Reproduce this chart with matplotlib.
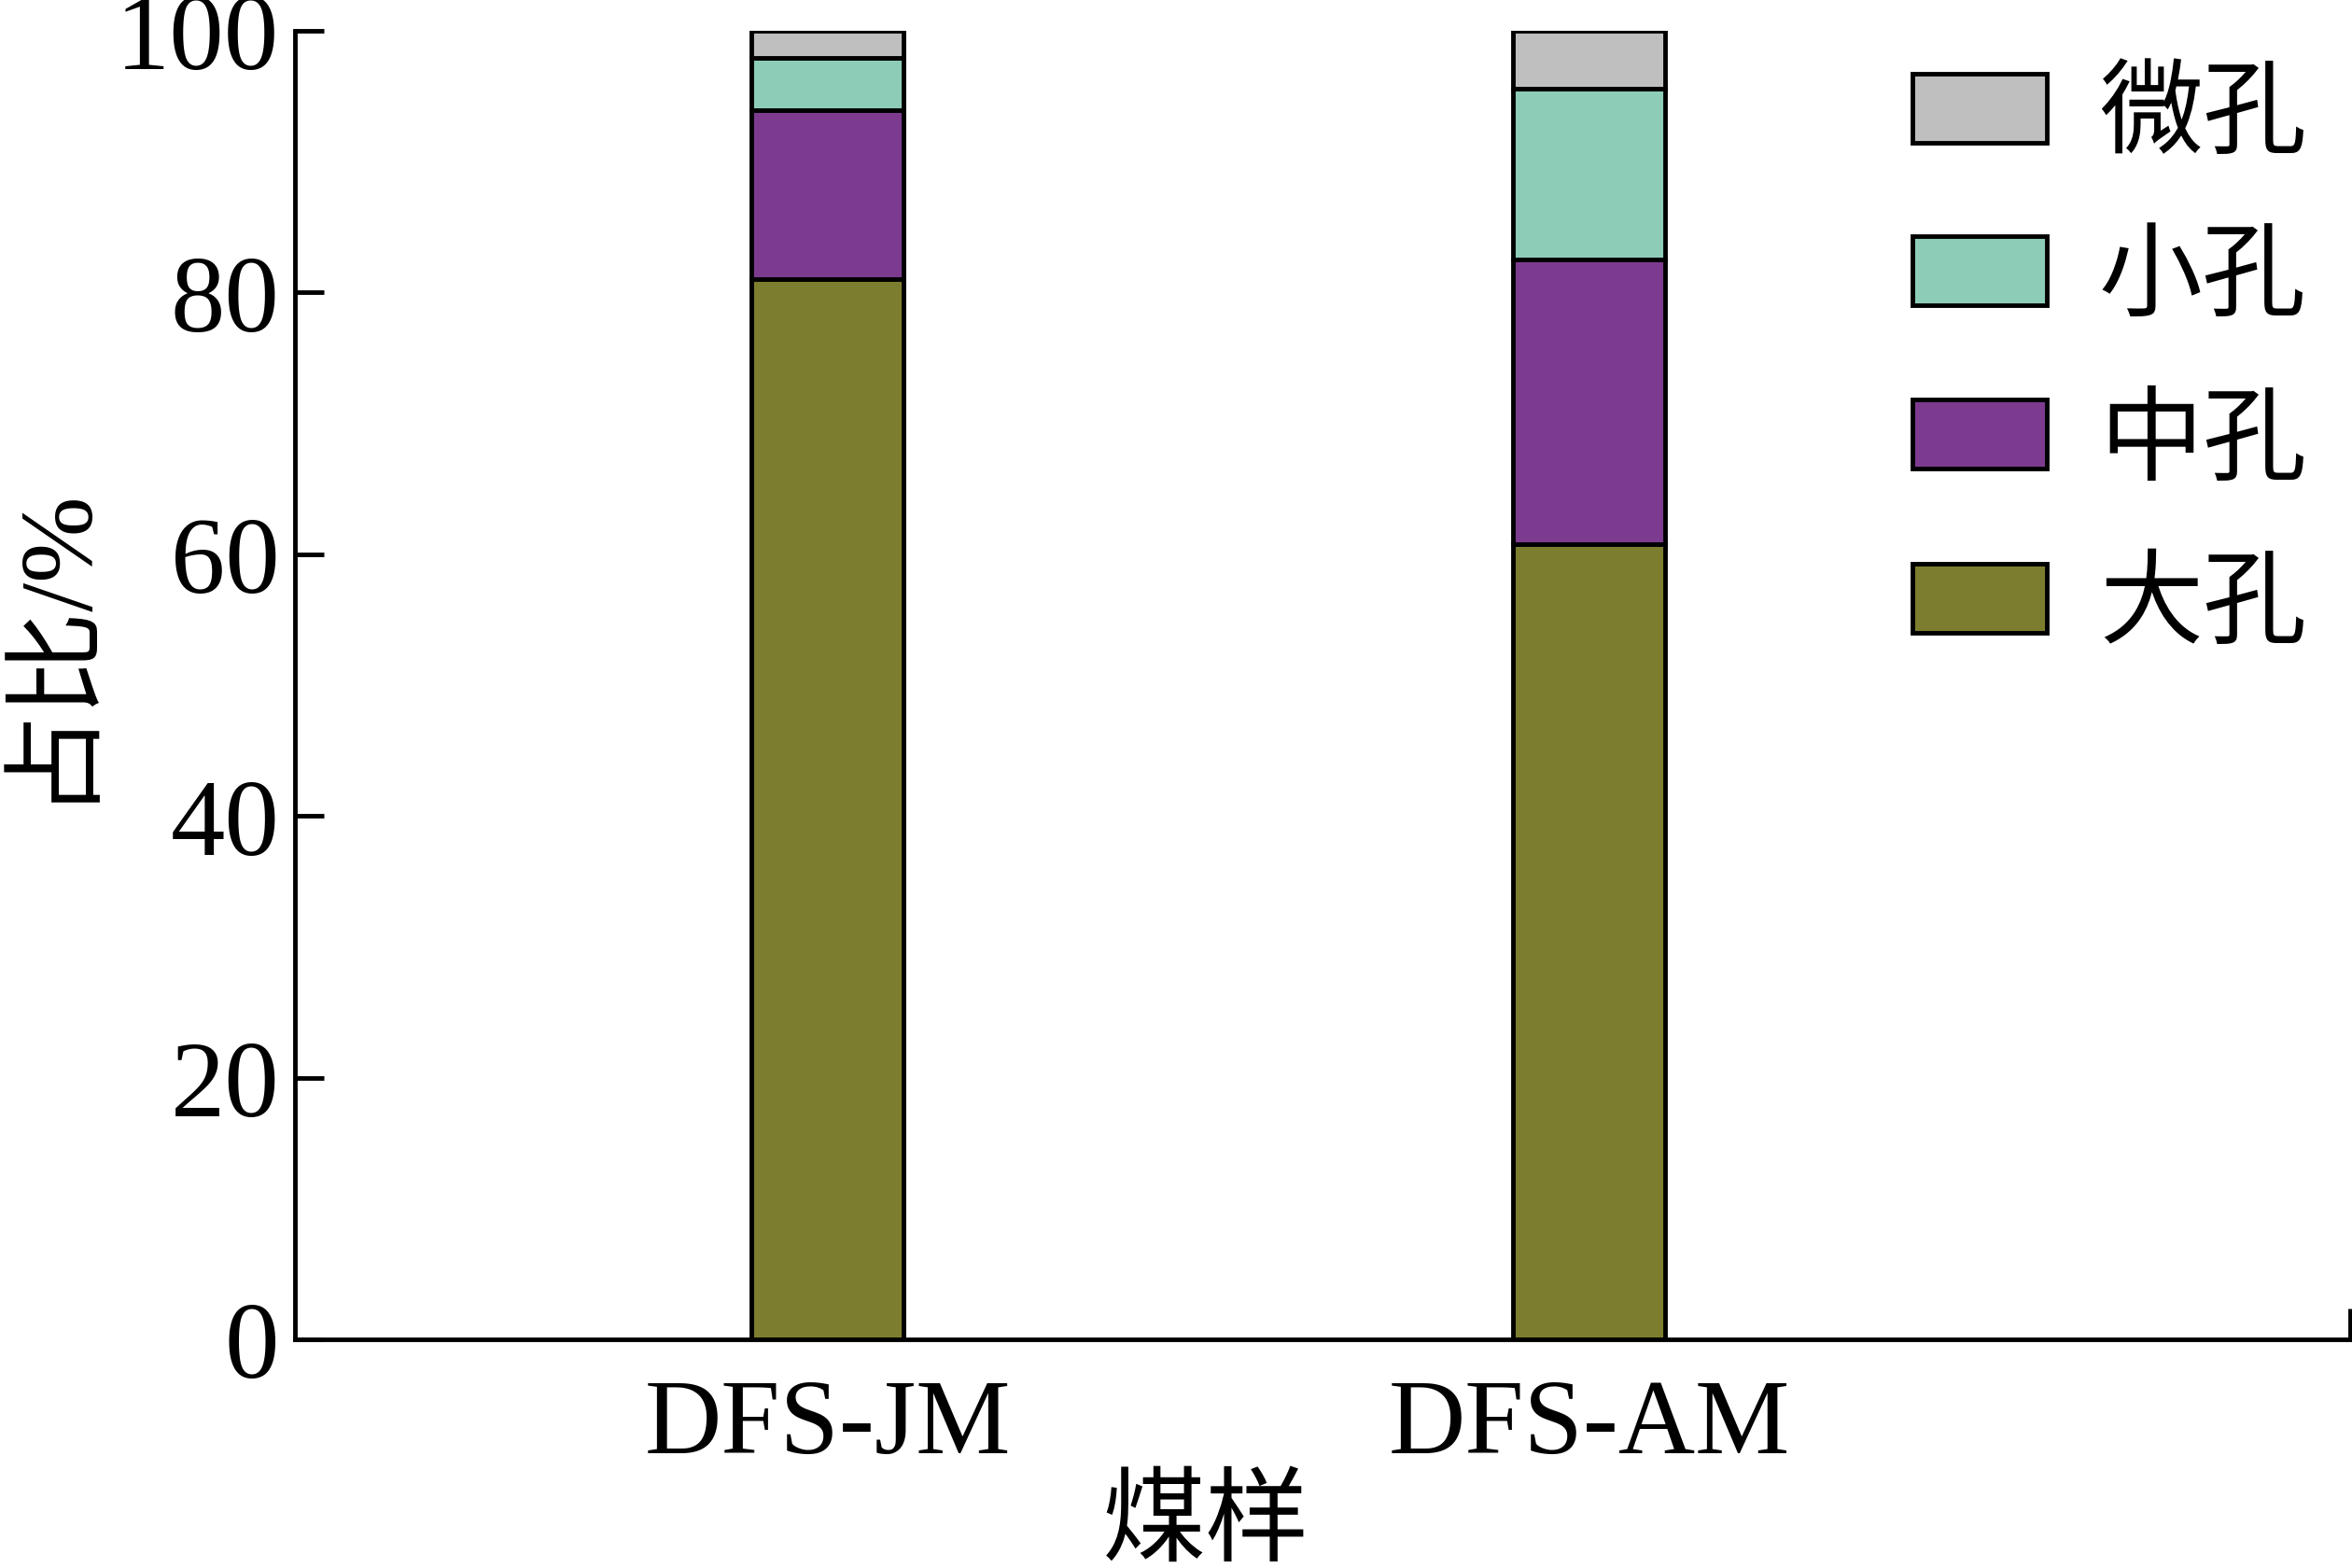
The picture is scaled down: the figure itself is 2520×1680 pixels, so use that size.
import matplotlib
matplotlib.use("Agg")
import matplotlib.pyplot as plt
import numpy as np

plt.rcParams['font.family'] = ['Liberation Serif', 'Noto Sans CJK SC']

samples = ["DFS-JM", "DFS-AM"]
pore_types = ["大孔", "中孔", "小孔", "微孔"]
macro = [81.0, 60.8]
meso = [12.9, 21.7]
small = [4.0, 13.1]
micro = [2.1, 4.4]
colors = ["#7d7d2f", "#7d3b8f", "#8dcdb8", "#bfbfbf"]

fig = plt.figure(figsize=(25.2, 16.81), dpi=100)
ax = fig.add_axes([0.1254, 0.1458, 0.8738, 0.834])

x = np.arange(len(samples))
bottom = np.zeros(len(samples))
handles = []
for vals, name, c in zip([macro, meso, small, micro], pore_types, colors):
    b = ax.bar(x, vals, width=0.2, bottom=bottom, color=c, edgecolor="black",
               linewidth=3.5, label=name)
    handles.append(b)
    bottom += np.array(vals)

ax.set_xlim(-0.70, 2.0)
ax.set_ylim(0, 100)
ax.set_yticks([0, 20, 40, 60, 80, 100])
ax.set_xticks(x)
ax.set_xticklabels(samples)
ax.set_xticks([2.0], minor=True)
ax.tick_params(axis="x", which="major", length=0, pad=30, labelsize=82)
ax.tick_params(axis="x", which="minor", direction="in", length=24, width=3.5)
ax.tick_params(axis="y", direction="in", length=22, width=3.5, pad=12, labelsize=84)

for s in ["top", "right"]:
    ax.spines[s].set_visible(False)
for s in ["left", "bottom"]:
    ax.spines[s].set_linewidth(3.5)

ax.set_ylabel("占比/%", fontsize=80)
ax.yaxis.set_label_coords(-0.096, 0.535)
ax.set_xlabel("煤样", fontsize=80)
ax.xaxis.set_label_coords(0.443, -0.106)

leg = fig.legend(handles[::-1], pore_types[::-1], loc="upper left",
                 bbox_to_anchor=(2049 / 2520, 1 - 76 / 1681), frameon=False,
                 fontsize=80, handlelength=1.3, handleheight=0.65,
                 handletextpad=0.5, labelspacing=0.66, borderpad=0, borderaxespad=0)
for p in leg.get_patches():
    p.set_linewidth(3.5)

fig.savefig("out.png", dpi=100)
